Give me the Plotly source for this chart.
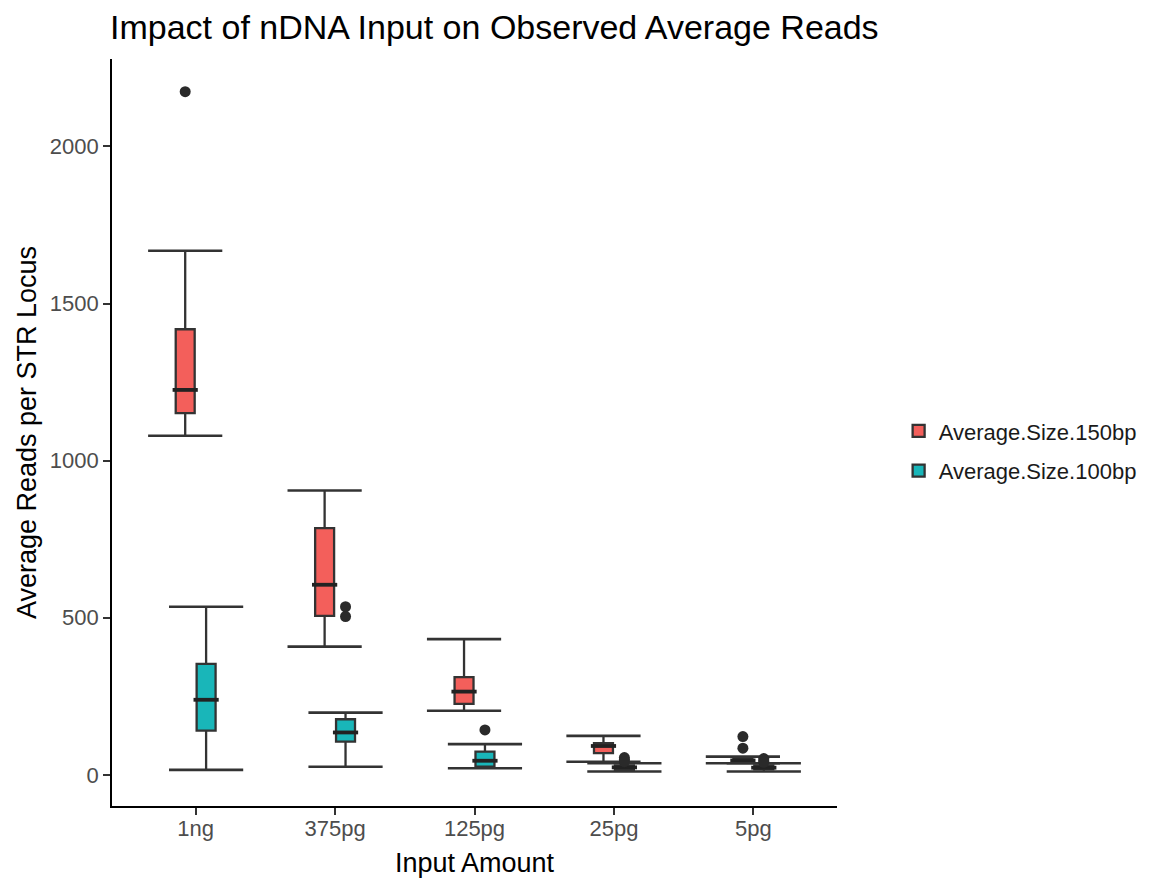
import numpy as np
import plotly.graph_objects as go

# input amounts on the x axis
amounts = ["1ng", "375pg", "125pg", "25pg", "5pg"]

# box statistics, 150bp series
lo_150 = [1079, 408, 204, 42, 37]
q1_150 = [1151, 506, 226, 69, 39]
med_150 = [1225, 605, 265, 92, 46]
q3_150 = [1418, 785, 311, 101, 54]
hi_150 = [1668, 905, 432, 124, 58]
out_150 = {"1ng": [2174], "5pg": [122, 85]}

# 100bp series
lo_100 = [16, 26, 21, 11, 11]
q1_100 = [141, 106, 26, 16, 18]
med_100 = [239, 135, 45, 24, 23]
q3_100 = [353, 177, 74, 30, 30]
hi_100 = [535, 198, 98, 37, 37]
out_100 = {"375pg": [535, 504], "125pg": [143], "25pg": [55, 48, 42], "5pg": [52, 45, 40]}

FONT = "Liberation Sans, Arial, sans-serif"
EDGE = "#333333"
dodge = 0.075
box_w = 0.136

series = [
    ("Average.Size.150bp", "#F35F5B", -dodge, lo_150, q1_150, med_150, q3_150, hi_150, out_150),
    ("Average.Size.100bp", "#19B6B9", dodge, lo_100, q1_100, med_100, q3_100, hi_100, out_100),
]

fig = go.Figure()
idx = np.arange(len(amounts))

for name, col, off, lo, q1, med, q3, hi, outs in series:
    xs = idx + off
    fig.add_trace(go.Box(
        x=xs, q1=q1, median=med, q3=q3, lowerfence=lo, upperfence=hi,
        name=name, legendgroup=name, fillcolor=col, line=dict(color=EDGE, width=2.3),
        width=box_w, whiskerwidth=0, boxpoints=False, hoverinfo="skip",
    ))

for name, col, off, lo, q1, med, q3, hi, outs in series:
    xs = idx + off
    # whisker caps (wider than the box, like geom_errorbar)
    fig.add_trace(go.Scatter(
        x=np.concatenate([xs, xs]), y=lo + hi, mode="markers", showlegend=False,
        marker=dict(symbol="line-ew", size=53, line=dict(color=EDGE, width=2.6)),
        hoverinfo="skip",
    ))
    # thicker median line
    fig.add_trace(go.Scatter(
        x=xs, y=med, mode="markers", showlegend=False,
        marker=dict(symbol="line-ew", size=18, line=dict(color="#222222", width=3.8)),
        hoverinfo="skip",
    ))
    ox, oy = [], []
    for k, a in enumerate(amounts):
        for v in outs.get(a, []):
            ox.append(k + off)
            oy.append(v)
    fig.add_trace(go.Scatter(
        x=ox, y=oy, mode="markers", showlegend=False,
        marker=dict(size=11, color="#2a2a2a"), hoverinfo="skip",
    ))

# page body has an 8px margin, so the figure is a bit smaller than the window
fig.update_layout(
    width=1146, height=870,
    margin=dict(l=104, r=314, t=51, b=72),
    paper_bgcolor="white", plot_bgcolor="white",
    font=dict(family=FONT, color="black"),
    title=dict(text="Impact of nDNA Input on Observed Average Reads",
               x=102 / 1146, xref="container", xanchor="left",
               y=1 - 19 / 870, yref="container", yanchor="middle",
               font=dict(size=34, color="black")),
    legend=dict(x=1.085, xanchor="left", y=0.475, yanchor="middle",
                font=dict(size=22, color="#1a1a1a"), tracegroupgap=8),
    showlegend=True,
)
fig.update_xaxes(
    range=[-0.6, 4.6], tickvals=list(idx), ticktext=amounts, automargin=False,
    showline=True, linecolor="black", linewidth=1.8, showgrid=False, zeroline=False,
    ticks="outside", ticklen=7, tickwidth=1.6, tickcolor=EDGE,
    tickfont=dict(size=22, color="#4D4D4D"), ticklabelstandoff=-5,
    title=dict(text="Input Amount", font=dict(size=27), standoff=14),
)
fig.update_yaxes(
    range=[-99, 2278], tickvals=[0, 500, 1000, 1500, 2000], automargin=False,
    showline=True, linecolor="black", linewidth=1.8, showgrid=False, zeroline=False,
    ticks="outside", ticklen=7, tickwidth=1.6, tickcolor=EDGE,
    tickfont=dict(size=22, color="#4D4D4D"),
    title=dict(text="Average Reads per STR Locus", font=dict(size=27), standoff=5),
)

fig.write_html("out.html")
